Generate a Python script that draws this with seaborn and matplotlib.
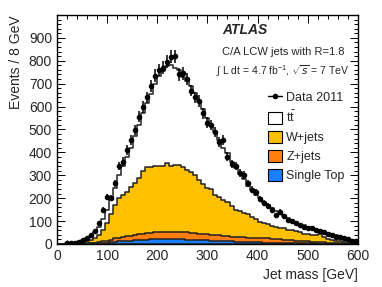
import numpy as np
import pandas as pd
import matplotlib
matplotlib.use("Agg")
import matplotlib.pyplot as plt
import seaborn as sns
from matplotlib.lines import Line2D
from matplotlib.patches import Patch
from matplotlib.ticker import MultipleLocator

# bins de 8 GeV entre 0 y 600
bordes = np.arange(0, 601, 8)
centros = bordes[:-1] + 4

# altura superior de cada capa apilada
total_mc = [0, 1, 2, 4, 6, 10, 16, 24, 34, 50, 75, 110, 150, 195, 245, 300, 340, 380, 420,
            470, 520, 570, 615, 655, 700, 735, 755, 775, 780, 770, 760, 730, 710, 690, 660,
            620, 590, 550, 515, 490, 455, 420, 395, 360, 330, 305, 285, 255, 235, 215, 200,
            180, 170, 155, 145, 130, 120, 112, 102, 95, 88, 82, 75, 68, 62, 58, 52, 47, 42,
            38, 32, 28, 22, 18, 12]
tope_wjets = [0, 0, 1, 2, 3, 5, 8, 12, 18, 26, 40, 60, 90, 130, 170, 200, 215, 225, 250,
              265, 290, 320, 335, 335, 340, 342, 340, 352, 340, 345, 345, 335, 325, 315, 300,
              280, 260, 245, 240, 215, 205, 190, 185, 165, 150, 145, 135, 130, 118, 108, 98,
              92, 88, 80, 75, 70, 68, 62, 60, 55, 50, 45, 42, 40, 38, 45, 30, 22, 18, 15, 12,
              10, 8, 6, 4]
tope_zjets = [0, 0, 0, 0, 1, 1, 2, 3, 4, 6, 9, 12, 15, 19, 24, 27, 30, 34, 36, 40, 42, 44,
              46, 48, 50, 50, 52, 53, 52, 54, 52, 51, 50, 48, 47, 45, 43, 42, 40, 38, 37, 35,
              34, 32, 31, 30, 29, 27, 27, 26, 25, 25, 24, 23, 22, 21, 19, 18, 16, 15, 14, 13,
              11, 10, 9, 8, 7, 6, 5, 5, 4, 3, 3, 2, 2]
single_top = [0, 0, 0, 0, 0, 0, 1, 1, 2, 2, 3, 4, 6, 8, 10, 11, 13, 14, 15, 16, 17, 18, 19,
              20, 20, 21, 21, 21, 21, 21, 20, 20, 19, 19, 18, 17, 16, 16, 15, 14, 13, 12, 12,
              11, 10, 10, 9, 8, 8, 7, 7, 6, 6, 5, 5, 4, 4, 4, 3, 3, 3, 2, 2, 2, 2, 1, 1, 1,
              1, 1, 1, 0, 0, 0, 0]
datos = [0, 0, 3, 4, 5, 9, 17, 28, 38, 55, 90, 150, 205, 200, 265, 340, 360, 410, 455, 498,
         555, 598, 640, 690, 735, 760, 770, 795, 817, 820, 740, 745, 720, 670, 640, 625, 570,
         530, 520, 490, 445, 455, 380, 350, 340, 310, 300, 265, 236, 225, 195, 180, 165, 150,
         125, 140, 120, 105, 100, 92, 82, 75, 70, 68, 60, 55, 52, 45, 40, 32, 30, 25, 22, 14, 12]

capas = [
    ("ttbar", total_mc, "white"),
    ("W+jets", tope_wjets, "#ffc000"),
    ("Z+jets", tope_zjets, "#ff7f0e"),
    ("Single Top", single_top, "#1a7fff"),
]

sns.set_style("ticks")
plt.rcParams["font.family"] = ["Liberation Sans", "DejaVu Sans"]
plt.rcParams["mathtext.fontset"] = "custom"
plt.rcParams["mathtext.rm"] = "Liberation Sans"

fig = plt.figure(figsize=(3.82, 2.87), dpi=100)
ax = fig.add_axes([0.149, 0.150, 0.788, 0.798])

for nombre, valores, color in capas:
    df = pd.DataFrame({"masa": centros, "peso": valores})
    sns.histplot(data=df, x="masa", weights="peso", binwidth=8, binrange=(0, 600),
                 element="step", fill=True, color=color, edgecolor="#222222",
                 linewidth=1.1, alpha=1, ax=ax)

d = np.array(datos, dtype=float)
m = d > 0
ax.errorbar(centros[m], d[m], yerr=np.sqrt(d[m]), xerr=4, fmt="o", ms=3,
            color="black", elinewidth=1.1, capsize=0, zorder=5)

ax.set_xlim(0, 600)
ax.set_ylim(0, 1000)
ax.xaxis.set_major_locator(MultipleLocator(100))
ax.xaxis.set_minor_locator(MultipleLocator(20))
ax.yaxis.set_major_locator(MultipleLocator(100))
ax.yaxis.set_minor_locator(MultipleLocator(20))
ax.set_yticks(np.arange(0, 1000, 100))
ax.tick_params(which="both", direction="in", top=True, right=True, labelsize=10,
               color="black", width=0.7)
ax.tick_params(which="major", length=6)
ax.tick_params(which="minor", length=3)
for s in ax.spines.values():
    s.set_linewidth(1.0)
    s.set_color("black")

ax.set_xlabel("Jet mass [GeV]", loc="right", fontsize=10)
ax.set_ylabel("Events / 8 GeV", loc="top", fontsize=10, labelpad=4)

ax.text(0.548, 0.935, "ATLAS", transform=ax.transAxes, fontsize=10,
        fontweight="bold", fontstyle="italic", va="center")
ax.text(0.548, 0.838, "C/A LCW jets with R=1.8", transform=ax.transAxes,
        fontsize=8, va="center")
ax.text(0.53, 0.755, r"$\int$ L dt = 4.7 fb$^{-1}$, $\sqrt{s}$ = 7 TeV",
        transform=ax.transAxes, fontsize=7.5, va="center")

manejadores = [Line2D([0], [0], color="black", marker="o", ms=3, lw=1)]
etiquetas = ["Data 2011"]
for nombre, valores, color in capas:
    manejadores.append(Patch(facecolor=color, edgecolor="black", linewidth=0.8))
    etiquetas.append(r"t$\bar{\rm t}$" if nombre == "ttbar" else nombre)
ax.legend(manejadores, etiquetas, loc="upper left", bbox_to_anchor=(0.70, 0.667),
          frameon=False, fontsize=9, handlelength=1.15, handleheight=1.1,
          labelspacing=0.45, handletextpad=0.35, borderpad=0, borderaxespad=0)

fig.savefig("out.png", dpi=100)
